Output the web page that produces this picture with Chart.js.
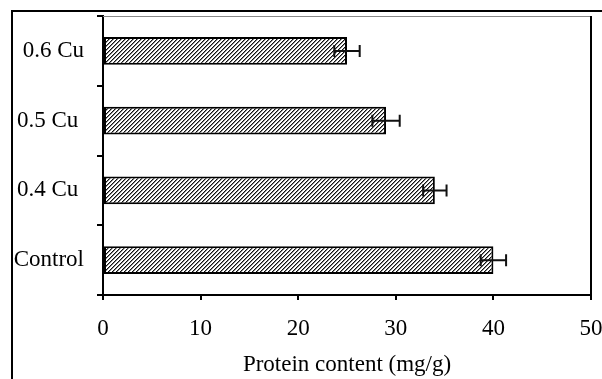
<!DOCTYPE html>
<html lang="en">
<head>
    <meta charset="UTF-8">
    <title>Protein content</title>
    <style>
        body {
            margin: 0;
            background-color: white;
        }
        #wrap {
            width: 602px;
            height: 379px;
        }
    </style>
</head>
<body>
    <div id="wrap">
        <canvas id="proteinChart" width="602" height="379"></canvas>
    </div>

    <script src="https://cdn.jsdelivr.net/npm/chart.js"></script>
    <script>
        // top to bottom, as in the figure (trailing spaces kept like the original labels)
        const categories = ['0.6 Cu', '0.5 Cu ', '0.4 Cu ', 'Control'];
        const proteinValues = [25, 29, 34, 40];
        const proteinErrors = [1.3, 1.4, 1.2, 1.3];
        const xTicks = [0, 10, 20, 30, 40, 50];

        const fontFamily = '"Liberation Serif", "Times New Roman", serif';

        // diagonal hatch fill for the bars
        function makeHatch() {
            const tile = document.createElement('canvas');
            tile.width = 4;
            tile.height = 4;
            const tctx = tile.getContext('2d');
            tctx.fillStyle = '#fff';
            tctx.fillRect(0, 0, 4, 4);
            for (let i = 0; i < 4; i++) {
                tctx.fillStyle = '#111';
                tctx.fillRect(i, 3 - i, 1, 1);
                tctx.fillStyle = '#888';
                tctx.fillRect((i + 1) % 4, 3 - i, 1, 1);
            }
            return tctx.createPattern(tile, 'repeat');
        }

        // drop the automatic label overhang so the plot box sits where the figure has it
        function noOverhang(scale) {
            scale.paddingTop = 0;
            scale.paddingBottom = 0;
            scale.paddingLeft = 0;
            scale.paddingRight = 0;
        }

        const framePlugin = {
            id: 'frame',
            beforeDraw(chart) {
                const ctx = chart.ctx;
                ctx.save();
                ctx.fillStyle = '#fff';
                ctx.fillRect(0, 0, chart.width, chart.height);
                // outer border of the figure (only top and left show)
                ctx.strokeStyle = '#000';
                ctx.lineWidth = 2;
                ctx.beginPath();
                ctx.moveTo(12, chart.height);
                ctx.lineTo(12, 11);
                ctx.lineTo(chart.width, 11);
                ctx.stroke();
                ctx.restore();
            },
            afterDraw(chart) {
                const a = chart.chartArea;
                const ctx = chart.ctx;
                ctx.save();
                ctx.strokeStyle = '#888';
                ctx.lineWidth = 1;
                ctx.beginPath();
                ctx.moveTo(a.left, a.top + 0.5);
                ctx.lineTo(a.right, a.top + 0.5);
                ctx.stroke();
                ctx.strokeStyle = '#000';
                ctx.lineWidth = 2;
                ctx.beginPath();
                ctx.moveTo(a.right, a.top);
                ctx.lineTo(a.right, a.bottom);
                ctx.stroke();
                ctx.restore();
            }
        };

        const errorBarPlugin = {
            id: 'errorBars',
            afterDatasetsDraw(chart) {
                const ctx = chart.ctx;
                const xScale = chart.scales.x;
                const meta = chart.getDatasetMeta(0);
                ctx.save();
                ctx.strokeStyle = '#111';
                ctx.lineWidth = 2;
                meta.data.forEach((bar, i) => {
                    const v = proteinValues[i];
                    const e = proteinErrors[i];
                    const x1 = xScale.getPixelForValue(v - e);
                    const x2 = xScale.getPixelForValue(v + e);
                    const y = bar.y;
                    ctx.beginPath();
                    ctx.moveTo(x1, y);
                    ctx.lineTo(x2, y);
                    ctx.moveTo(x1, y - 6);
                    ctx.lineTo(x1, y + 6);
                    ctx.moveTo(x2, y - 6);
                    ctx.lineTo(x2, y + 6);
                    ctx.stroke();
                });
                ctx.restore();
            }
        };

        const ctx = document.getElementById('proteinChart').getContext('2d');
        const chart = new Chart(ctx, {
            type: 'bar',
            data: {
                labels: categories,
                datasets: [{
                    data: proteinValues,
                    backgroundColor: makeHatch(),
                    borderColor: '#000',
                    borderWidth: 2,
                    borderSkipped: false,
                    categoryPercentage: 1,
                    barPercentage: 0.4
                }]
            },
            options: {
                indexAxis: 'y',
                responsive: false,
                animation: false,
                layout: {
                    padding: { left: 0, top: 16, right: 11, bottom: 0 }
                },
                plugins: {
                    legend: { display: false },
                    tooltip: { enabled: false }
                },
                scales: {
                    x: {
                        min: 0,
                        max: 50,
                        afterFit(scale) {
                            scale.height = 84;
                            noOverhang(scale);
                        },
                        afterBuildTicks(scale) {
                            scale.ticks = xTicks.map(v => ({ value: v }));
                        },
                        border: { color: '#000', width: 2 },
                        grid: {
                            drawOnChartArea: false,
                            drawTicks: true,
                            tickLength: 5,
                            color: '#000',
                            lineWidth: 2
                        },
                        ticks: {
                            color: '#000',
                            padding: 15,
                            maxRotation: 0,
                            font: { family: fontFamily, size: 23 }
                        },
                        title: {
                            display: true,
                            text: 'Protein content (mg/g)',
                            color: '#000',
                            padding: { top: 0, bottom: 0 },
                            font: { family: fontFamily, size: 23 }
                        }
                    },
                    y: {
                        afterFit(scale) {
                            scale.width = 103;
                            noOverhang(scale);
                        },
                        border: { color: '#000', width: 2 },
                        grid: {
                            drawOnChartArea: false,
                            drawTicks: true,
                            tickLength: 6,
                            color: '#000',
                            lineWidth: 2
                        },
                        ticks: {
                            color: '#000',
                            padding: 13,
                            font: { family: fontFamily, size: 23 }
                        }
                    }
                }
            },
            plugins: [framePlugin, errorBarPlugin]
        });
    </script>
</body>
</html>
